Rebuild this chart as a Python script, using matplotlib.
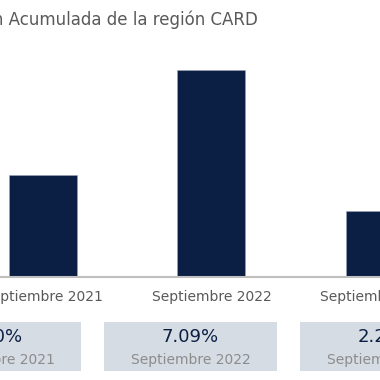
import matplotlib.pyplot as plt

# datos
periodos = ['Septiembre 2021', 'Septiembre 2022', 'Septiembre 2023']
inflacion = [3.50, 7.09, 2.26]
titulo = 'Inflación Acumulada de la región CARD'

azul = '#0b1f44'
gris_caja = '#d6dce4'

fig = plt.figure(figsize=(3.8, 3.8), dpi=100)

# barras (el gráfico original está recortado a los lados)
ax = fig.add_axes([0, 0.271, 1, 0.571])
x = list(range(len(periodos)))
ax.bar(x, inflacion, width=0.4035, color=azul, edgecolor='#9aa6b8', linewidth=0.4)
ax.set_xlim(-0.2544, 1.968)
ax.set_ylim(0, 7.09 * 217 / 207)
ax.set_xticks(x)
ax.set_xticklabels(periodos, fontsize=10, color='#595959')
ax.tick_params(axis='x', length=0, pad=9)
ax.set_yticks([])
for s in ['top', 'left', 'right']:
    ax.spines[s].set_visible(False)
ax.spines['bottom'].set_color('#bfbfbf')
ax.spines['bottom'].set_linewidth(1.5)

# cajas con los valores
ax2 = fig.add_axes([0, 0.0237, 1, 0.1289])
ax2.bar(x, [1] * len(x), width=0.883, color=gris_caja, bottom=0)
ax2.set_xlim(0.028, 1.967)
ax2.set_ylim(0, 1)
ax2.axis('off')
for i, (p, v) in enumerate(zip(periodos, inflacion)):
    ax2.text(i, 0.69, f'{v:.2f}%', ha='center', va='center', fontsize=13, color=azul)
    ax2.text(i, 0.22, p, ha='center', va='center', fontsize=10, color='#8c8c8c')

fig.text(258 / 380, 0.947, titulo, ha='right', va='center', fontsize=12, color='#595959')

fig.savefig('out.png', dpi=100)
